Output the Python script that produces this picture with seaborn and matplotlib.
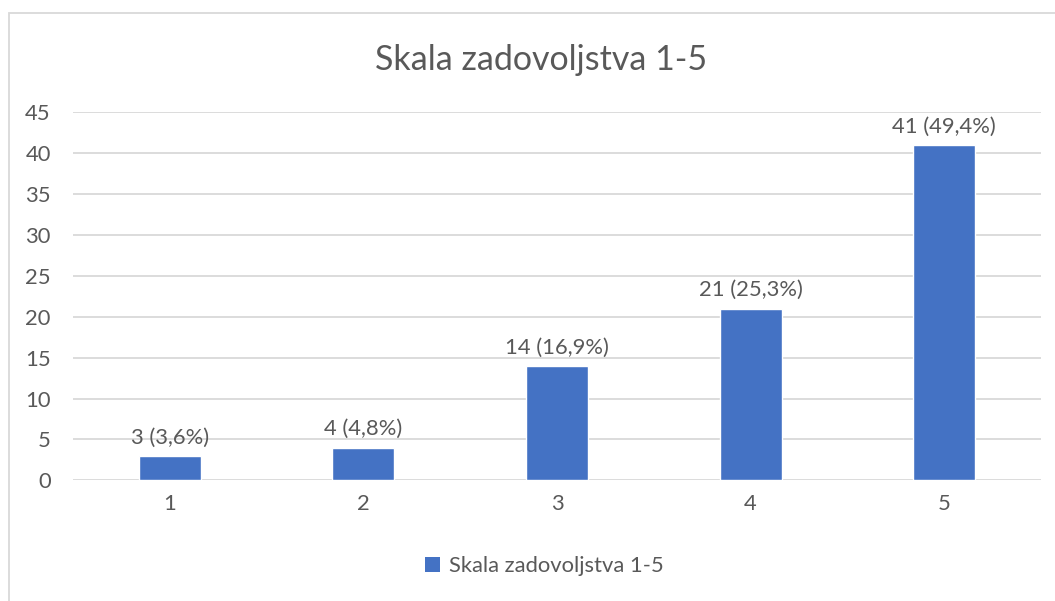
import matplotlib
matplotlib.use("Agg")
import matplotlib.pyplot as plt
import seaborn as sns
import pandas as pd
from matplotlib.patches import Rectangle, Patch

categories = ["1", "2", "3", "4", "5"]
counts = [3, 4, 14, 21, 41]
labels = ["3 (3,6%)", "4 (4,8%)", "14 (16,9%)", "21 (25,3%)", "41 (49,4%)"]
title = "Skala zadovoljstva 1-5"
yticks = [0, 5, 10, 15, 20, 25, 30, 35, 40, 45]

sns.set_theme(style="white")
plt.rcParams["font.family"] = ["Lato", "DejaVu Sans"]

TXT = "#595959"
GRID = "#D9D9D9"
BAR = "#4472C4"
FS = 15.8

fig = plt.figure(figsize=(10.55, 6.01), dpi=100)
ax = fig.add_axes([73/1055, 1-480.3/601, (1041-73)/1055, (480.3-112.3)/601])

df = pd.DataFrame({"cat": categories, "val": counts})
sns.barplot(data=df, x="cat", y="val", color=BAR, width=0.32, saturation=1, ax=ax, zorder=3)

ax.set_ylim(0, 45)
ax.set_xlim(-0.5, 4.5)
ax.set_yticks(yticks)
ax.set_yticklabels([str(t) for t in yticks])
for s in ax.spines.values():
    s.set_visible(False)
ax.yaxis.grid(True, color=GRID, linewidth=1.3, zorder=0)
ax.set_axisbelow(True)
ax.tick_params(axis="both", length=0, labelsize=FS, colors=TXT)
ax.tick_params(axis="y", pad=16)
ax.tick_params(axis="x", pad=10)
ax.set_xlabel("")
ax.set_ylabel("")

ax.bar_label(ax.containers[0], labels=labels, padding=6, fontsize=FS, color=TXT)

fig.text(541/1055, 1-60/601, title, ha="center", va="center", fontsize=24.5, color=TXT)

handle = Patch(facecolor=BAR, edgecolor="none")
fig.legend([handle], [title], loc="center", bbox_to_anchor=(544/1055, 1-566/601),
           frameon=False, fontsize=FS, labelcolor=TXT, handlelength=0.7, handleheight=0.7,
           handletextpad=0.4)

fig.patches.append(Rectangle((9/1055, -0.1), 1.2, 1-13/601+0.1, transform=fig.transFigure,
                             fill=False, edgecolor=GRID, linewidth=1.3))

fig.savefig("out.png", dpi=100)
